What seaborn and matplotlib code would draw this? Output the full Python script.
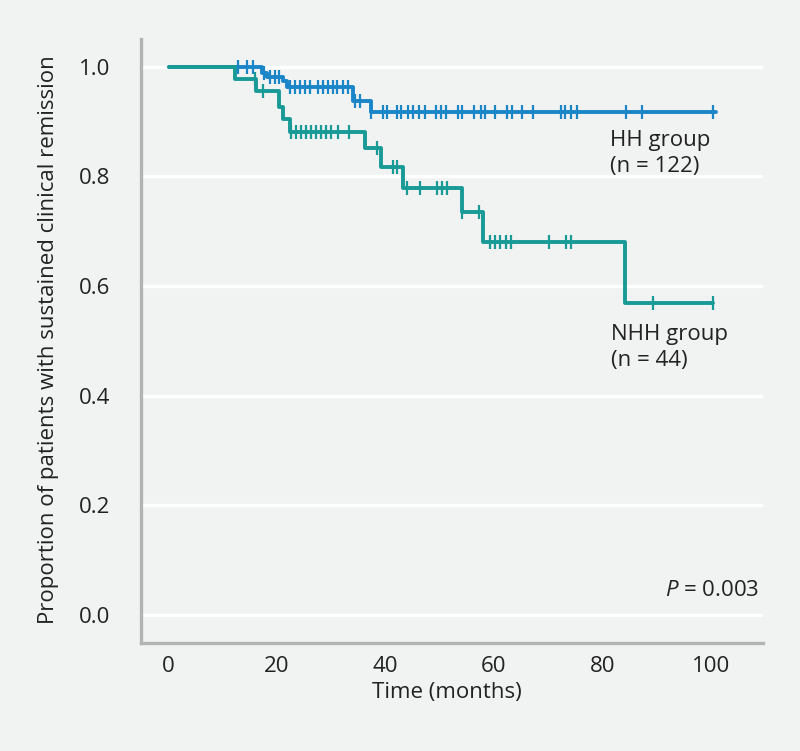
import numpy as np
import pandas as pd
import seaborn as sns
import matplotlib
matplotlib.use("Agg")
import matplotlib.pyplot as plt

# Kaplan-Meier steps (time in months, proportion in remission)
hh_times = [0, 17.2, 18.1, 21.1, 21.9, 34.0, 37.3]
hh_surv = [1.0, 0.988, 0.981, 0.973, 0.962, 0.937, 0.918]
hh_end = 100.9
hh_censor = [12.8, 14.4, 15.5, 17.5, 18.7, 19.6, 20.4, 22.4, 23.3, 24.3, 25.2, 26.1,
             27.5, 28.5, 29.4, 30.3, 31.1, 32.1, 33.0, 34.3, 35.3, 37.3, 39.5, 40.2,
             42.2, 42.9, 44.1, 45.1, 46.1, 47.3, 49.4, 50.2, 51.1, 53.3, 54.1, 56.4,
             57.6, 58.4, 60.3, 62.5, 63.3, 65.1, 67.2, 72.3, 73.2, 74.2, 75.3, 84.3,
             87.4, 100.5]

nhh_times = [0, 12.3, 16.1, 20.3, 21.1, 22.3, 36.3, 39.2, 43.2, 54.1, 58.0, 84.2]
nhh_surv = [1.0, 0.977, 0.956, 0.927, 0.905, 0.880, 0.851, 0.817, 0.778, 0.734, 0.681, 0.568]
nhh_end = 100.5
nhh_censor = [16.0, 17.4, 22.6, 23.5, 24.4, 25.4, 26.3, 27.2, 28.1, 29.0, 29.9, 31.2,
              33.3, 38.4, 41.4, 42.2, 43.9, 46.3, 49.5, 50.4, 51.3, 54.1, 57.3, 59.2,
              60.2, 61.2, 62.2, 63.2, 70.2, 73.3, 74.2, 89.3, 100.5]

groups = ["HH", "NHH"]
group_labels = ["HH group\n(n = 122)", "NHH group\n(n = 44)"]
colors = {"HH": "#1a86c8", "NHH": "#189a96"}
y_ticks = [0.0, 0.2, 0.4, 0.6, 0.8, 1.0]
x_ticks = [0, 20, 40, 60, 80, 100]

bg = "#f1f2f2"
font = ["Open Sans", "DejaVu Sans"]

sns.set_theme(style="white")
plt.rcParams["font.family"] = font
plt.rcParams["mathtext.fontset"] = "custom"
plt.rcParams["mathtext.rm"] = font[0]
plt.rcParams["mathtext.it"] = font[0] + ":italic"

rows = []
for g, t, s, end in [("HH", hh_times, hh_surv, hh_end), ("NHH", nhh_times, nhh_surv, nhh_end)]:
    for ti, si in zip(t + [end], s + [s[-1]]):
        rows.append({"time": ti, "surv": si, "group": g})
km = pd.DataFrame(rows)

fig = plt.figure(figsize=(8, 7.51), dpi=100, facecolor=bg)
ax = fig.add_axes([0.176, 0.1434, 0.778, 0.8047])
ax.set_facecolor(bg)

sns.lineplot(data=km, x="time", y="surv", hue="group", hue_order=groups, palette=colors,
             drawstyle="steps-post", estimator=None, sort=False, linewidth=2.8,
             legend=False, ax=ax, zorder=3)

# censor ticks sit on the step curve
for g, t, s, cens in [("HH", hh_times, hh_surv, hh_censor), ("NHH", nhh_times, nhh_surv, nhh_censor)]:
    idx = np.searchsorted(t, cens, side="right") - 1
    ax.plot(cens, np.array(s)[idx], linestyle="none", marker="|", markersize=10,
            markeredgewidth=1.6, color=colors[g], zorder=4)

ax.set_xlim(-5.15, 109.7)
ax.set_ylim(-0.052, 1.0505)
ax.set_xticks(x_ticks)
ax.set_yticks(y_ticks)
ax.set_yticklabels([f"{v:.1f}" for v in y_ticks])
ax.grid(axis="y", color="white", linewidth=2.4)
ax.grid(axis="x", visible=False)
ax.set_axisbelow(True)

for side in ["top", "right"]:
    ax.spines[side].set_visible(False)
for side in ["left", "bottom"]:
    ax.spines[side].set_color("#b3b3b5")
    ax.spines[side].set_linewidth(2.4)

ax.tick_params(axis="both", length=0, labelsize=16, colors="#222222")
ax.tick_params(axis="y", pad=22)
ax.tick_params(axis="x", pad=9)

ax.set_xlabel("Time (months)", fontsize=16, color="#222222")
ax.set_ylabel("Proportion of patients with sustained clinical remission", fontsize=16, color="#222222")
ax.xaxis.set_label_coords(0.492, -0.082)
ax.xaxis.label.set_va("center")
ax.yaxis.set_label_coords(-0.149, 0.503)
ax.yaxis.label.set_va("center")

ax.text(81.4, 0.842, group_labels[0], fontsize=16, color="#222222", va="center", ha="left", linespacing=1.3)
ax.text(81.6, 0.488, group_labels[1], fontsize=16, color="#222222", va="center", ha="left", linespacing=1.3)
ax.text(109.0, 0.045, "$P$ = 0.003", fontsize=16, color="#222222", va="center", ha="right")

fig.savefig("out.png", dpi=100, facecolor=bg)
